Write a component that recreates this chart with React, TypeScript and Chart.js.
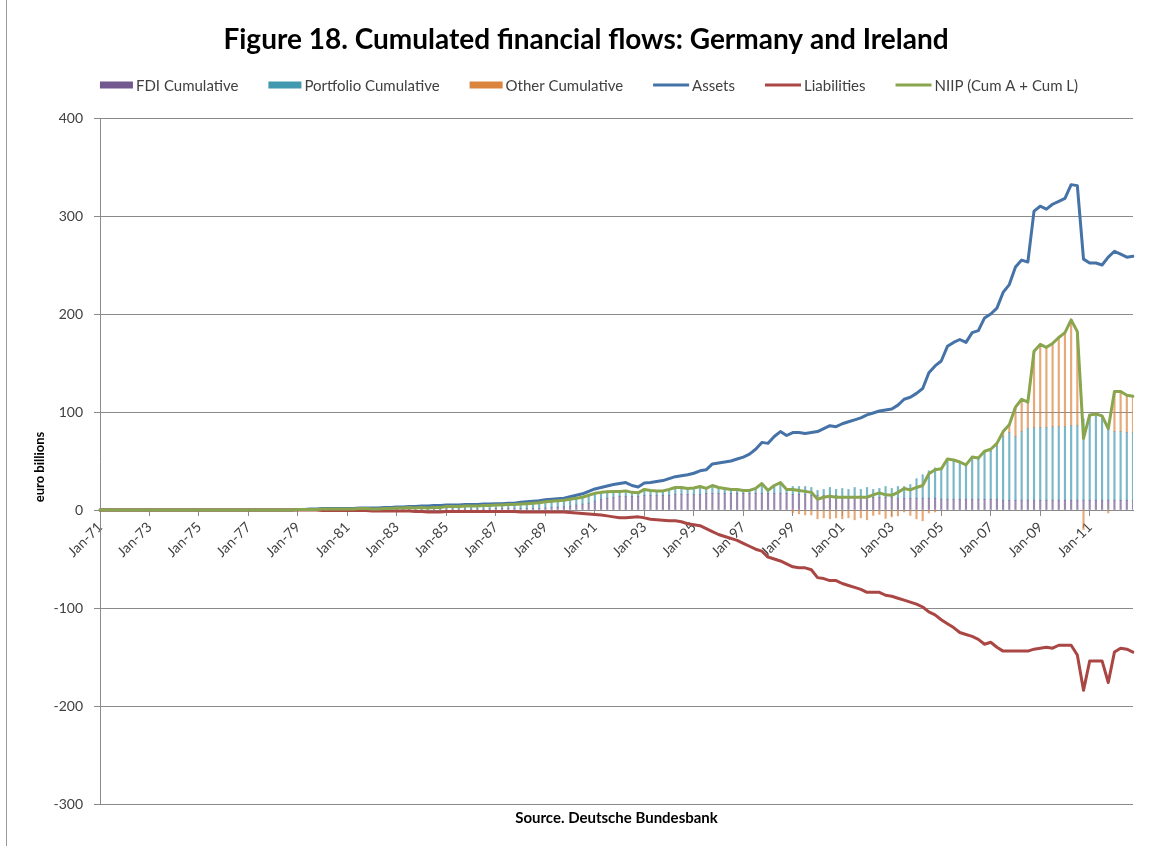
import React, { useEffect, useRef } from 'react';
import { Chart, registerables } from 'chart.js';

Chart.register(...registerables);

// ---------- data (quarterly, Jan-71 .. Oct-12) ----------
const FIRST_YEAR = 1971;
const LAST_YEAR = 2012;
const MONTHS = ['Jan', 'Apr', 'Jul', 'Oct'];

const LABELS: string[] = [];
for (let y = FIRST_YEAR; y <= LAST_YEAR; y++) {
  for (const m of MONTHS) LABELS.push(`${m}-${String(y % 100).padStart(2, '0')}`);
}

const TITLE = 'Figure 18. Cumulated financial flows: Germany and Ireland';
const SOURCE = 'Source. Deutsche Bundesbank';
const Y_TITLE = 'euro billions';
const Y_MIN = -300;
const Y_MAX = 400;
const Y_STEP = 100;

const ASSETS = [
  0, 0, 0, 0, 0, 0, 0, 0, 0, 0, 0, 0, 0, 0, 0, 0, // 71-74
  0, 0, 0, 0, 0, 0, 0, 0, 0, 0, 0, 0, 0, 0, 0, 0, // 75-78
  0.5, 0.5, 1, 1, // 79
  1.5, 1.5, 1.5, 1.5, // 80
  1.5, 1.5, 2, 2, // 81
  2, 2, 2.5, 2.5, // 82
  3, 3, 3.5, 3.5, // 83
  4, 4, 4.5, 4.5, // 84
  5, 5, 5, 5.5, // 85
  5.5, 5.5, 6, 6, // 86
  6.5, 6.5, 7, 7, // 87
  8, 8.5, 9, 9.5, // 88
  10.5, 11, 11.5, 12, // 89
  13.5, 15, 16.5, 19, // 90
  21.5, 23, 24.5, 26, // 91
  27, 28, 25, 23.5, // 92
  27.5, 28, 29, 30, // 93
  32, 34, 35, 36, // 94
  37.5, 40, 41, 47, // 95
  48, 49, 50, 52, // 96
  54, 57, 62, 69, // 97
  68, 75, 80, 76, // 98
  79, 79, 78, 79, // 99
  80, 83, 86, 85, // 00
  88, 90, 92, 94, // 01
  97, 99, 101, 102, // 02
  103, 107, 113, 115, // 03
  119, 124, 140, 147, // 04
  152, 167, 171, 174, // 05
  171, 181, 183, 196, // 06
  200, 206, 222, 230, // 07
  248, 255, 253, 305, // 08
  310, 307, 312, 315, // 09
  318, 332, 331, 256, // 10
  252, 252, 250, 258, // 11
  264, 261, 258, 259, // 12
];

const LIABILITIES = [
  0, 0, 0, 0, 0, 0, 0, 0, 0, 0, 0, 0, 0, 0, 0, 0, // 71-74
  0, 0, 0, 0, 0, 0, 0, 0, 0, 0, 0, 0, 0, 0, 0, 0, // 75-78
  0, 0, 0, 0, // 79
  -0.5, -0.5, -0.5, -0.5, // 80
  -0.5, -0.5, -0.5, -0.5, // 81
  -1, -1, -1, -1, // 82
  -1, -1, -1, -1.5, // 83
  -1.5, -2, -2, -2, // 84
  -1.5, -1.5, -1.5, -1.5, // 85
  -1.5, -1.5, -1.5, -1.5, // 86
  -1.5, -1.5, -1.5, -1.5, // 87
  -2, -2, -2, -2, // 88
  -2, -2, -2, -2, // 89
  -2.5, -3, -3.5, -4, // 90
  -4.5, -5, -6, -7, // 91
  -8, -8, -7.5, -7, // 92
  -8, -9.5, -10, -10.5, // 93
  -11, -11, -12, -14, // 94
  -15, -16, -19, -22, // 95
  -25, -27, -29, -31, // 96
  -34, -37, -40, -42, // 97
  -48, -50, -52, -55, // 98
  -58, -59, -59, -61, // 99
  -69, -70, -72, -72, // 00
  -75, -77, -79, -81, // 01
  -84, -84, -84, -87, // 02
  -88, -90, -92, -94, // 03
  -96, -99, -104, -107, // 04
  -112, -116, -120, -125, // 05
  -127, -129, -132, -137, // 06
  -135, -140, -144, -144, // 07
  -144, -144, -144, -142, // 08
  -141, -140, -141, -138, // 09
  -138, -138, -148, -184, // 10
  -154, -154, -154, -176, // 11
  -145, -141, -142, -145, // 12
];

const NIIP = [
  0, 0, 0, 0, 0, 0, 0, 0, 0, 0, 0, 0, 0, 0, 0, 0, // 71-74
  0, 0, 0, 0, 0, 0, 0, 0, 0, 0, 0, 0, 0, 0, 0, 0, // 75-78
  0.5, 0.5, 0.5, 0.5, // 79
  1, 1, 1, 1, // 80
  1, 1, 1.5, 1.5, // 81
  1, 1, 1.5, 1.5, // 82
  2, 2, 2.5, 2, // 83
  2.5, 2, 2.5, 2.5, // 84
  3.5, 3.5, 3.5, 4, // 85
  4, 4, 4.5, 4.5, // 86
  5, 5, 5.5, 5.5, // 87
  6, 6.5, 7, 7.5, // 88
  8.5, 9, 9.5, 10, // 89
  11, 12, 13, 15, // 90
  17, 18, 18.5, 19, // 91
  19, 19.5, 18, 17.5, // 92
  21, 20, 19.5, 19.5, // 93
  21, 23, 23, 22, // 94
  22.5, 24, 22, 25, // 95
  23, 22, 21, 21, // 96
  20, 20, 22, 27, // 97
  20, 25, 28, 21, // 98
  21, 20, 19, 18, // 99
  11, 13, 14, 13, // 00
  13, 13, 13, 13, // 01
  13, 15.5, 17.5, 15.5, // 02
  15, 18, 22, 20.5, // 03
  23, 25, 37, 41, // 04
  42, 52, 51, 49, // 05
  46, 54, 53, 60, // 06
  62, 68, 80, 87, // 07
  105, 113, 110, 162, // 08
  169, 166, 170, 176, // 09
  181, 194, 182, 73, // 10
  97, 98, 96, 83, // 11
  121, 121, 117, 116, // 12
];

const FDI = [
  0, 0, 0, 0, 0, 0, 0, 0, 0, 0, 0, 0, 0, 0, 0, 0, // 71-74
  0, 0, 0, 0, 0, 0, 0, 0, 0, 0, 0, 0, 0, 0, 0, 0, // 75-78
  0.3, 0.3, 0.3, 0.3, // 79
  0.5, 0.5, 0.5, 0.5, // 80
  0.5, 0.5, 0.5, 0.5, // 81
  0.5, 0.5, 0.5, 0.5, // 82
  1, 1, 1, 1, // 83
  1, 1, 1, 1, // 84
  1, 1, 1, 1, // 85
  1, 1, 1, 1, // 86
  1.5, 1.5, 1.5, 1.5, // 87
  1.5, 1.5, 1.5, 1.5, // 88
  2, 2.5, 3, 3.5, // 89
  4, 5, 6, 7, // 90
  9, 11, 12, 13, // 91
  14, 14, 14, 14, // 92
  15, 15, 15, 15, // 93
  15, 16, 16, 16, // 94
  16, 16, 17, 17, // 95
  17, 17, 17, 17, // 96
  17, 17, 17, 17, // 97
  17, 17, 17, 17, // 98
  16, 16, 16, 15, // 99
  15, 15, 15, 15, // 00
  14, 14, 14, 14, // 01
  13, 13, 13, 13, // 02
  13, 12, 12, 12, // 03
  12, 12, 12, 12, // 04
  11, 11, 11, 11, // 05
  11, 11, 11, 11, // 06
  11, 11, 10, 10, // 07
  10, 10, 10, 10, // 08
  10, 10, 10, 10, // 09
  10, 10, 10, 10, // 10
  10, 10, 10, 10, // 11
  10, 10, 10, 10, // 12
];

const PORTFOLIO = [
  0, 0, 0, 0, 0, 0, 0, 0, 0, 0, 0, 0, 0, 0, 0, 0, // 71-74
  0, 0, 0, 0, 0, 0, 0, 0, 0, 0, 0, 0, 0, 0, 0, 0, // 75-78
  0.2, 0.2, 0.2, 0.2, // 79
  0.5, 0.5, 0.5, 0.5, // 80
  0.5, 0.5, 1, 1, // 81
  0.5, 0.5, 1, 1, // 82
  1, 1, 1.5, 1, // 83
  1.5, 1, 1.5, 1.5, // 84
  2.5, 2.5, 2.5, 3, // 85
  3, 3, 3.5, 3.5, // 86
  3.5, 3.5, 4, 4, // 87
  4.5, 5, 5.5, 6, // 88
  6.5, 6.5, 6.5, 6.5, // 89
  7, 7, 7, 8, // 90
  8, 7, 6.5, 6, // 91
  5, 5.5, 4, 3.5, // 92
  6, 5, 4.5, 4.5, // 93
  6, 7, 7, 6, // 94
  6.5, 8, 5, 8, // 95
  6, 5, 4, 4, // 96
  3, 3, 5, 10, // 97
  3, 8, 11, 4, // 98
  8, 8, 8, 8, // 99
  5, 6, 8, 6, // 00
  8, 7, 9, 7, // 01
  10, 8, 9, 11, // 02
  9, 12, 12, 14, // 03
  20, 24, 28, 31, // 04
  31, 41, 39, 38, // 05
  35, 43, 41, 48, // 06
  49, 54, 65, 69, // 07
  65, 70, 73, 74, // 08
  74, 74, 75, 75, // 09
  75, 76, 76, 83, // 10
  85, 86, 84, 76, // 11
  70, 70, 69, 69, // 12
];

const OTHER = [
  0, 0, 0, 0, 0, 0, 0, 0, 0, 0, 0, 0, 0, 0, 0, 0, // 71-74
  0, 0, 0, 0, 0, 0, 0, 0, 0, 0, 0, 0, 0, 0, 0, 0, // 75-78
  0, 0, 0, 0, 0, 0, 0, 0, 0, 0, 0, 0, 0, 0, 0, 0, // 79-82
  0, 0, 0, 0, 0, 0, 0, 0, 0, 0, 0, 0, 0, 0, 0, 0, // 83-86
  0, 0, 0, 0, 0, 0, 0, 0, 0, 0, 0, 0, 0, 0, 0, 0, // 87-90
  0, 0, 0, 0, 0, 0, 0, 0, 0, 0, 0, 0, 0, 0, 0, 0, // 91-94
  0, 0, 0, 0, 0, 0, 0, 0, 0, 0, 0, 0, 0, 0, 0, 0, // 95-98
  -3, -4, -5, -5, // 99
  -9, -8, -9, -8, // 00
  -9, -8, -10, -8, // 01
  -10, -5.5, -4.5, -8.5, // 02
  -7, -6, -2, -5.5, // 03
  -9, -11, -3, -2, // 04
  0, 0, 1, 0, // 05
  0, 0, 1, 1, // 06
  2, 3, 5, 8, // 07
  30, 33, 27, 78, // 08
  85, 82, 85, 91, // 09
  96, 108, 96, -20, // 10
  2, 2, 2, -3, // 11
  41, 41, 38, 37, // 12
];

// ---------- styling ----------
const FONT = 'Lato, "Open Sans", sans-serif';
const TEXT = '#404040';
const GRID = '#8a8a8a';
const C_FDI = '#71588F';
const C_PORT = '#4198AF';
const C_OTHER = '#DB843D';
const BAR_FDI = 'rgba(113,88,143,0.7)';
const BAR_PORT = 'rgba(65,152,175,0.7)';
const BAR_OTHER = 'rgba(219,132,61,0.7)';
const C_ASSETS = '#4572A7';
const C_LIAB = '#AA4643';
const C_NIIP = '#89A54E';

const decorPlugin = {
  id: 'decor',
  afterDraw(chart: any) {
    const ctx = chart.ctx as CanvasRenderingContext2D;
    const area = chart.chartArea;
    ctx.save();
    // frame line on the left
    ctx.strokeStyle = '#9a9a9a';
    ctx.lineWidth = 1;
    ctx.beginPath();
    ctx.moveTo(6.5, 0);
    ctx.lineTo(6.5, chart.height);
    ctx.stroke();

    // title
    ctx.fillStyle = '#000';
    ctx.textAlign = 'center';
    ctx.textBaseline = 'middle';
    ctx.font = `bold 28px ${FONT}`;
    ctx.fillText(TITLE, 586, 40);

    // legend
    ctx.font = `15px ${FONT}`;
    const items = chart.data.datasets.map((d: any) => ({
      label: d.label,
      isLine: d.type === 'line',
      color: d.type === 'line' ? d.borderColor : d.legendColor,
    }));
    const GAP_MARK = 3;
    const GAP_ITEM = 30;
    const widths = items.map((it: any) => (it.isLine ? 36 : 33) + GAP_MARK + ctx.measureText(it.label).width);
    const total = widths.reduce((a: number, b: number) => a + b, 0) + GAP_ITEM * (items.length - 1);
    let x = 589 - total / 2;
    const ly = 85;
    ctx.textAlign = 'left';
    items.forEach((it: any, i: number) => {
      if (it.isLine) {
        ctx.strokeStyle = it.color;
        ctx.lineWidth = 3;
        ctx.beginPath();
        ctx.moveTo(x, ly);
        ctx.lineTo(x + 36, ly);
        ctx.stroke();
      } else {
        ctx.fillStyle = it.color;
        ctx.fillRect(x, ly - 3.5, 33, 7);
      }
      const mw = it.isLine ? 36 : 33;
      ctx.fillStyle = TEXT;
      ctx.fillText(it.label, x + mw + GAP_MARK, ly + 1);
      x += widths[i] + GAP_ITEM;
    });

    // y axis title
    ctx.save();
    ctx.translate(40, (area.top + area.bottom) / 2 + 6);
    ctx.rotate(-Math.PI / 2);
    ctx.textAlign = 'center';
    ctx.fillStyle = '#000';
    ctx.font = `bold 13px ${FONT}`;
    ctx.fillText(Y_TITLE, 0, 0);
    ctx.restore();

    // source (bottom)
    ctx.textAlign = 'center';
    ctx.fillStyle = '#000';
    ctx.font = `bold 15px ${FONT}`;
    ctx.fillText(SOURCE, (area.left + area.right) / 2, 818);
    ctx.restore();
  },
};

export default function App() {
  const ref = useRef<HTMLCanvasElement | null>(null);

  useEffect(() => {
    document.body.style.margin = '0';
    const canvas = ref.current;
    if (!canvas) return;
    const barCommon = {
      type: 'bar' as const,
      stack: 'flows',
      barThickness: 1.5,
      borderWidth: 0,
      order: 4,
    };
    const lineCommon = {
      type: 'line' as const,
      borderWidth: 3,
      pointRadius: 0,
      tension: 0,
      fill: false,
      borderJoinStyle: 'round' as const,
      borderCapStyle: 'round' as const,
    };
    const chart = new Chart(canvas, {
      type: 'bar',
      data: {
        labels: LABELS,
        datasets: [
          { ...barCommon, label: 'FDI Cumulative', data: FDI, backgroundColor: BAR_FDI, legendColor: C_FDI } as any,
          { ...barCommon, label: 'Portfolio Cumulative', data: PORTFOLIO, backgroundColor: BAR_PORT, legendColor: C_PORT } as any,
          { ...barCommon, label: 'Other Cumulative', data: OTHER, backgroundColor: BAR_OTHER, legendColor: C_OTHER } as any,
          { ...lineCommon, label: 'Assets', data: ASSETS, borderColor: C_ASSETS, backgroundColor: C_ASSETS, stack: 'a', order: 3 } as any,
          { ...lineCommon, label: 'Liabilities', data: LIABILITIES, borderColor: C_LIAB, backgroundColor: C_LIAB, stack: 'l', order: 2 } as any,
          { ...lineCommon, label: 'NIIP (Cum A + Cum L)', data: NIIP, borderColor: C_NIIP, backgroundColor: C_NIIP, stack: 'n', order: 1 } as any,
        ],
      },
      options: {
        animation: false,
        responsive: true,
        maintainAspectRatio: false,
        events: [],
        layout: { padding: { top: 118, right: 31, bottom: 42, left: 0 } },
        plugins: {
          legend: { display: false },
          title: { display: false },
          tooltip: { enabled: false },
        },
        scales: {
          x: {
            type: 'category',
            position: { y: 0 } as any,
            offset: false,
            stacked: true,
            grid: {
              offset: false,
              drawOnChartArea: false,
              drawTicks: true,
              tickLength: 5,
              color: (c: any) => (c.index % 8 === 0 ? GRID : 'rgba(0,0,0,0)'),
            },
            border: { display: true, color: GRID, width: 1 },
            ticks: {
              autoSkip: false,
              maxRotation: 45,
              minRotation: 45,
              padding: 4,
              color: TEXT,
              font: { family: FONT, size: 14 },
              callback: (_v: any, i: number) => (i % 8 === 0 ? LABELS[i] : ''),
            },
          },
          y: {
            type: 'linear',
            min: Y_MIN,
            max: Y_MAX,
            stacked: true,
            afterFit: (s: any) => {
              s.width = 100;
            },
            grid: { color: GRID, lineWidth: 1, drawTicks: true, tickLength: 6 },
            border: { display: true, color: GRID, width: 1 },
            ticks: {
              stepSize: Y_STEP,
              padding: 11,
              color: TEXT,
              font: { family: FONT, size: 14 },
            },
          },
        },
      },
      plugins: [decorPlugin],
    });
    return () => chart.destroy();
  }, []);

  return (
    <div style={{ position: 'fixed', left: 0, top: 0, width: 1164, height: 846, background: '#fff' }}>
      <canvas ref={ref} />
    </div>
  );
}
